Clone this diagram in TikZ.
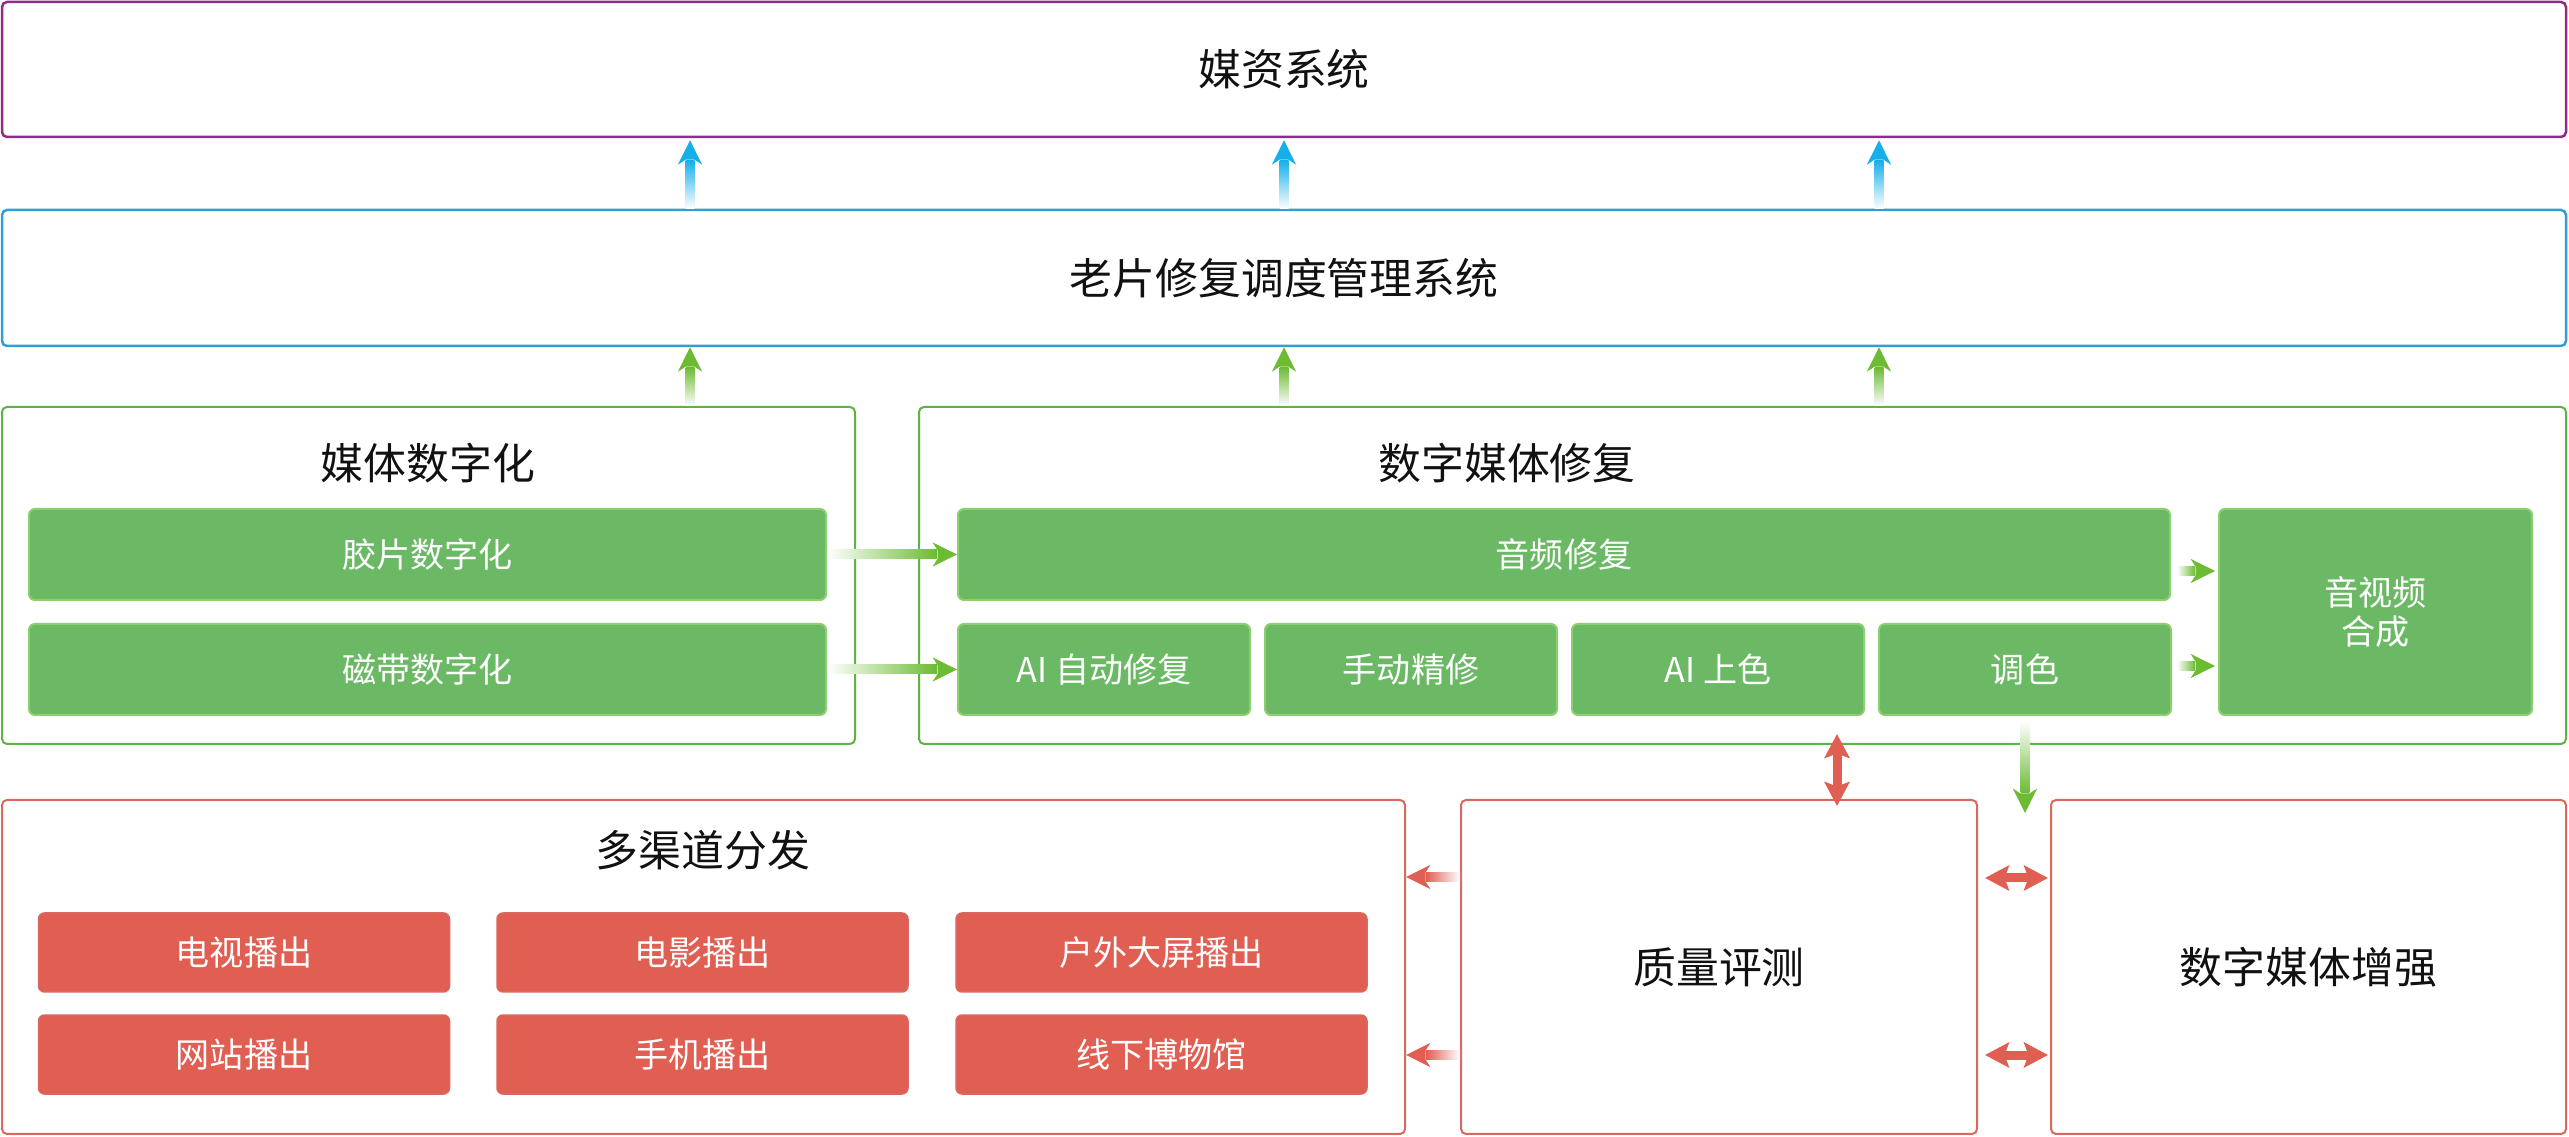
\documentclass[tikz,border=0pt]{standalone}
\usepackage{fontspec}
\setmainfont{Noto Sans CJK SC}
\usepackage{xcolor}
\usepackage{tikz}
\usetikzlibrary{arrows.meta, calc}
\definecolor{MediaPurple}{HTML}{922A87}
\definecolor{SchedBlue}{HTML}{2F9FD5}
\definecolor{ArrowBlue}{HTML}{15AFEA}
\definecolor{LeafGreen}{HTML}{5DB344}
\definecolor{BoxGreen}{HTML}{6BB865}
\definecolor{EdgeGreen}{HTML}{8DCE6E}
\definecolor{ArrowGreen}{HTML}{6CBB33}
\definecolor{BrickRed}{HTML}{E05E52}
\definecolor{EdgeRed}{HTML}{D9685E}
\definecolor{InkBlack}{HTML}{111111}

% tail, tip, colour, direction (0 right, 90 up, 180 left, 270 down)
\newcommand{\fadearrow}[4]{%
  \path (#1) coordinate (fat) (#2) coordinate (fah);
  \pgfmathsetmacro\fang{#4-90}
  \shade[bottom color=white, top color=#3, shading angle=\fang]
    ($(fat)+(#4+90:0.45mm)$) -- ($(fah)+(#4+180:2mm)+(#4+90:0.45mm)$)
    -- ($(fah)+(#4+180:2mm)+(#4-90:0.45mm)$) -- ($(fat)+(#4-90:0.45mm)$) -- cycle;
  \fill[#3] (fah) -- ($(fah)+(#4+180:2.45mm)+(#4+90:1.22mm)$)
    -- ($(fah)+(#4+180:1.95mm)+(#4+90:0.45mm)$) -- ($(fah)+(#4+180:1.95mm)+(#4-90:0.45mm)$)
    -- ($(fah)+(#4+180:2.45mm)+(#4-90:1.22mm)$) -- cycle;
}

\begin{document}
\begin{tikzpicture}[x=0.1mm, y=-0.1mm,
  bigtext/.style={font=\fontsize{12.2pt}{14pt}\selectfont, text=InkBlack},
  smalltext/.style={font=\fontsize{9.7pt}{11pt}\selectfont, text=white, align=center},
  frame/.style={draw, line width=0.25mm, rounded corners=0.5mm, fill=white, inner sep=0pt},
  greenbox/.style={smalltext, fill=BoxGreen, draw=EdgeGreen, line width=0.2mm, rounded corners=0.6mm, minimum height=9.1mm, inner sep=0pt},
  redbox/.style={smalltext, fill=BrickRed, draw=EdgeRed, line width=0.15mm, rounded corners=0.6mm, minimum width=41.1mm, minimum height=7.9mm, inner sep=0pt},
  twoway/.style={BrickRed, line width=0.9mm, {Stealth[width=2.5mm, length=2.4mm, inset=0.45mm]}-{Stealth[width=2.5mm, length=2.4mm, inset=0.45mm]}}]
  \useasboundingbox (0,0) rectangle (2569,1137);

  % Top layers
  \node[frame, bigtext, draw=MediaPurple, minimum width=256.4mm, minimum height=13.5mm] (assets) at (1284,69.5) {媒资系统};
  \node[frame, bigtext, draw=SchedBlue, minimum width=256.4mm, minimum height=13.6mm] (sched) at (1284,278) {老片修复调度管理系统};

  % Digitising and repair
  \node[frame, draw=LeafGreen, line width=0.2mm, minimum width=85.3mm, minimum height=33.7mm] (digit) at (428.5,575.5) {};
  \node[frame, draw=LeafGreen, line width=0.2mm, minimum width=164.7mm, minimum height=33.7mm] (repair) at (1742.5,575.5) {};
  \node[bigtext] (digittitle) at (428,463) {媒体数字化};
  \node[bigtext] (repairtitle) at (1507,463) {数字媒体修复};
  \node[greenbox, minimum width=79.7mm] (film) at (427.5,554.5) {胶片数字化};
  \node[greenbox, minimum width=79.7mm] (tape) at (427.5,669.5) {磁带数字化};
  \node[greenbox, minimum width=121.2mm] (audio) at (1564,554.5) {音频修复};
  \node[greenbox, minimum width=29.2mm] (aiauto) at (1104,669.5) {AI 自动修复};
  \node[greenbox, minimum width=29.2mm] (manual) at (1411,669.5) {手动精修};
  \node[greenbox, minimum width=29.2mm] (aicolor) at (1718,669.5) {AI 上色};
  \node[greenbox, minimum width=29.2mm] (grade) at (2025,669.5) {调色};
  \node[greenbox, minimum width=31.3mm, minimum height=20.6mm] (mix) at (2375.5,612) {音视频\\合成};

  % Bottom row
  \node[frame, draw=EdgeRed, line width=0.2mm, minimum width=140.3mm, minimum height=33.4mm] (dist) at (703.5,967) {};
  \node[bigtext] (disttitle) at (703,850) {多渠道分发};
  \node[frame, bigtext, draw=EdgeRed, line width=0.2mm, minimum width=51.6mm, minimum height=33.4mm] (quality) at (1719,967) {质量评测};
  \node[frame, bigtext, draw=EdgeRed, line width=0.2mm, minimum width=51.5mm, minimum height=33.4mm] (enhance) at (2308.5,967) {数字媒体增强};
  \node[redbox] (tv) at (244,952.5) {电视播出};
  \node[redbox] (film2) at (702.5,952.5) {电影播出};
  \node[redbox] (outdoor) at (1161.5,952.5) {户外大屏播出};
  \node[redbox] (web) at (244,1054.5) {网站播出};
  \node[redbox] (phone) at (702.5,1054.5) {手机播出};
  \node[redbox] (museum) at (1161.5,1054.5) {线下博物馆};

  % Upward arrows
  \coordinate (colA) at (690,0);
  \coordinate (colB) at (1284,0);
  \coordinate (colC) at (1879,0);
  \foreach \c in {colA, colB, colC}{
    \fadearrow{sched.north -| \c}{$(assets.south -| \c)+(0,2)$}{ArrowBlue}{90}
    \fadearrow{digit.north -| \c}{sched.south -| \c}{ArrowGreen}{90}
  }

  % Flow arrows
  \fadearrow{film.east}{audio.west}{ArrowGreen}{0}
  \fadearrow{tape.east}{aiauto.west}{ArrowGreen}{0}
  \fadearrow{$(mix.west)+(-41,-41)$}{$(mix.west)+(-3,-41)$}{ArrowGreen}{0}
  \fadearrow{$(mix.west)+(-41,54)$}{$(mix.west)+(-3,54)$}{ArrowGreen}{0}
  \fadearrow{$(grade.south)+(0,5)$}{$(grade.south)+(0,97)$}{ArrowGreen}{270}
  \fadearrow{$(quality.west)+(0,-90)$}{$(dist.east)+(0,-90)$}{BrickRed}{180}
  \fadearrow{$(quality.west)+(0,88)$}{$(dist.east)+(0,88)$}{BrickRed}{180}

  % Two-way links
  \draw[twoway] ($(quality.north)+(118,-65)$) -- ($(quality.north)+(118,7)$);
  \draw[twoway] ($(quality.east)+(7,-89)$) -- ($(enhance.west)+(-2,-89)$);
  \draw[twoway] ($(quality.east)+(7,88)$) -- ($(enhance.west)+(-2,88)$);
\end{tikzpicture}
\end{document}
